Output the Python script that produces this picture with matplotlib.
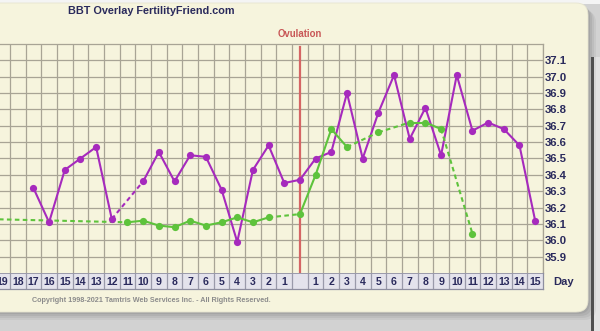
import numpy as np
import matplotlib
matplotlib.use("Agg")
import matplotlib.pyplot as plt
from matplotlib.patches import FancyBboxPatch, Rectangle

nan = np.nan

# cycle days: 20..1 before ovulation, the ovulation day, then 1..15 after
pre_days = list(range(20, 0, -1))
post_days = list(range(1, 16))
day_labels = [str(d) for d in pre_days] + [""] + [str(d) for d in post_days]
cols = np.arange(-len(pre_days), len(post_days) + 1)

purple_pre = [nan, nan, nan, 36.32, 36.11, 36.43, 36.50, 36.57, 36.13, nan,
              36.36, 36.54, 36.36, 36.52, 36.51, 36.31, 35.99, 36.43, 36.58, 36.35]
purple_ov = 36.37
purple_post = [36.50, 36.54, 36.90, 36.50, 36.78, 37.01, 36.62, 36.81, 36.52, 37.01,
               36.67, 36.72, 36.68, 36.58, 36.12]

green_pre = [36.13, nan, nan, nan, nan, nan, nan, nan, nan, 36.11,
             36.12, 36.09, 36.08, 36.12, 36.09, 36.11, 36.14, 36.11, 36.14, nan]
green_ov = 36.16
green_post = [36.40, 36.68, 36.57, nan, 36.66, nan, 36.72, 36.72, 36.68, nan,
              36.04, nan, nan, nan, nan]

temp_ticks = [35.9, 36.0, 36.1, 36.2, 36.3, 36.4, 36.5, 36.6, 36.7, 36.8, 36.9, 37.0, 37.1]

purple = np.array(purple_pre + [purple_ov] + purple_post)
green = np.array(green_pre + [green_ov] + green_post)

W, H = 600, 331
CREAM = "#f6f4dd"
GRID = "#a8a495"
NAVY = "#2a2a5c"
FONT = "Liberation Sans"

fig = plt.figure(figsize=(W / 100, H / 100), dpi=100)
fig.patch.set_facecolor("#d2d2d2")

# page background: card with shadow, in pixel coordinates
bg = fig.add_axes([0, 0, 1, 1])
bg.set_xlim(0, W)
bg.set_ylim(H, 0)
bg.axis("off")
bg.add_patch(Rectangle((0, 0), W, 4, color="#f4f4f4", lw=0))
bg.add_patch(Rectangle((594, 57), 6, H - 57, color="#e2e2e2", lw=0))
for off, a in [(8, 0.10), (6, 0.12), (4, 0.15), (2, 0.18)]:
    bg.add_patch(FancyBboxPatch((-20 + off, 3 + off), 608, 309,
                                boxstyle="round,pad=0,rounding_size=12",
                                fc="#707070", ec="none", alpha=a))
bg.add_patch(FancyBboxPatch((-20, 3), 608, 309,
                            boxstyle="round,pad=0,rounding_size=12",
                            fc=CREAM, ec="#e6e4d0", lw=0.6))
bg.add_patch(Rectangle((590.5, 57), 3.5, H - 57, color="#4f4f4f", lw=0))

# px -> figure fraction helpers
def fx(px):
    return px / W

def fy(py):
    return 1 - py / H

x0, x1 = -19.13, 15.5
ax = fig.add_axes([fx(0), fy(273), fx(543), (273 - 44) / H])
ax.set_facecolor("none")
ax.set_xlim(x0, x1)
ax.set_ylim(35.8, 37.2)

for c in np.arange(cols[0], cols[-1] + 1) + 0.5:
    ax.axvline(c, color=GRID, lw=0.9, zorder=1)
for t in np.arange(35.9, 37.15, 0.1):
    ax.axhline(t, color=GRID, lw=0.9, zorder=1)
for side in ["left", "bottom"]:
    ax.spines[side].set_visible(False)
for side in ["top", "right"]:
    ax.spines[side].set_color(GRID)
    ax.spines[side].set_linewidth(0.9)

ax.set_xticks([])
ax.yaxis.tick_right()
ax.set_yticks(temp_ticks)
ax.set_yticklabels([f"{t:.1f}" for t in temp_ticks])
ax.tick_params(axis="y", length=0, pad=1.5)
for lbl in ax.get_yticklabels():
    lbl.set_fontfamily(FONT)
    lbl.set_fontweight("bold")
    lbl.set_fontsize(8.2)
    lbl.set_color(NAVY)

# ovulation marker
ax.axvline(0, ymax=0.985, color="#d56565", lw=1.6, zorder=2)
fig.text(fx(300), fy(34), "Ovulation", ha="center", va="center",
         fontfamily=FONT, fontweight="bold", fontsize=6.9, color="#c85656")


def draw_series(vals, color):
    idx = np.flatnonzero(~np.isnan(vals))
    for a, b in zip(idx[:-1], idx[1:]):
        ls = "-" if b - a == 1 else (0, (2.2, 1.6))
        ax.plot([cols[a], cols[b]], [vals[a], vals[b]], color=color, lw=1.5,
                ls=ls, zorder=3, solid_capstyle="round")
    ax.plot(cols[idx], vals[idx], "o", color=color, ms=5.2, mec="none", zorder=4)


draw_series(purple, "#a62abd")
draw_series(green, "#5ec33c")

# day number strip under the grid
band = fig.add_axes([fx(0), fy(289), fx(543), 16 / H])
band.set_xlim(x0, x1)
band.set_ylim(0, 1)
band.set_facecolor("#e4e3ec")
band.set_xticks([])
band.set_yticks([])
for side in ["left", "top"]:
    band.spines[side].set_visible(False)
for side in ["bottom", "right"]:
    band.spines[side].set_color("#8e8ea0")
    band.spines[side].set_linewidth(0.9)
band.axhline(1, color="#8e8ea0", lw=1.2)
for c in np.arange(cols[0], cols[-1]) + 0.5:
    band.axvline(c, color="#9a9aaa", lw=0.9)
for c, lab in zip(cols, day_labels):
    band.text(c, 0.45, lab, ha="center", va="center", fontfamily=FONT,
              fontweight="bold", fontsize=7.6, color=NAVY, clip_on=True)

fig.text(fx(553), fy(282), "Day", ha="left", va="center", fontfamily=FONT,
         fontweight="bold", fontsize=8, color=NAVY)

fig.text(fx(151), fy(11), "BBT Overlay FertilityFriend.com", ha="center", va="center",
         fontfamily=FONT, fontweight="bold", fontsize=7.8, color=NAVY)
fig.text(fx(151), fy(301), "Copyright 1998-2021 Tamtris Web Services Inc. - All Rights Reserved.",
         ha="center", va="center", fontfamily=FONT, fontweight="bold", fontsize=5.2,
         color="#8c8c8c")

fig.savefig("out.png", dpi=100, facecolor=fig.get_facecolor())
